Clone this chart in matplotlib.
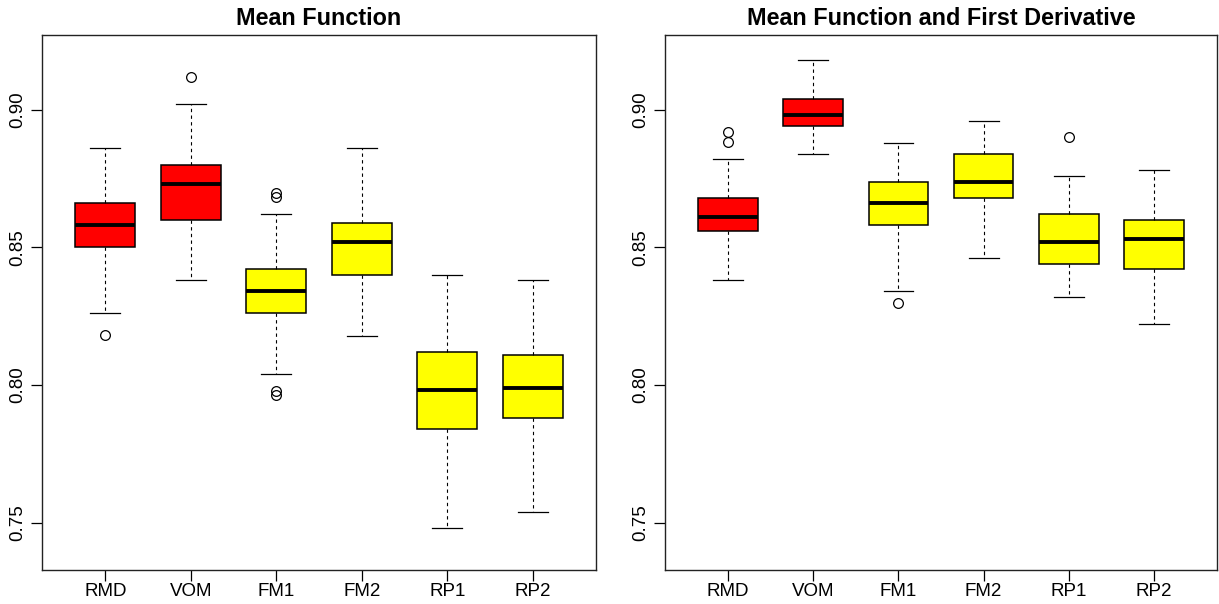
import matplotlib.pyplot as plt

plt.rcParams['font.family'] = ['Liberation Sans', 'DejaVu Sans']

methods = ['RMD', 'VOM', 'FM1', 'FM2', 'RP1', 'RP2']
box_colors = ['red', 'red', 'yellow', 'yellow', 'yellow', 'yellow']

# Left panel: Mean Function
mf_whislo = [0.8261, 0.8380, 0.8041, 0.8180, 0.7481, 0.7540]
mf_q1     = [0.8500, 0.8600, 0.8261, 0.8399, 0.7840, 0.7881]
mf_med    = [0.8581, 0.8731, 0.8340, 0.8520, 0.7981, 0.7991]
mf_q3     = [0.8661, 0.8801, 0.8421, 0.8590, 0.8121, 0.8110]
mf_whishi = [0.8861, 0.9021, 0.8620, 0.8861, 0.8399, 0.8380]
mf_fliers = [[0.8181], [0.9120], [0.8699, 0.8683, 0.7979, 0.7964], [], [], []]

# Right panel: Mean Function and First Derivative
md_whislo = [0.8380, 0.8840, 0.8341, 0.8461, 0.8320, 0.8221]
md_q1     = [0.8560, 0.8941, 0.8580, 0.8680, 0.8440, 0.8421]
md_med    = [0.8610, 0.8981, 0.8661, 0.8739, 0.8520, 0.8530]
md_q3     = [0.8680, 0.9040, 0.8739, 0.8840, 0.8620, 0.8600]
md_whishi = [0.8821, 0.9181, 0.8881, 0.8961, 0.8761, 0.8781]
md_fliers = [[0.8919, 0.8883], [], [0.8300], [], [0.8901], []]

yticks = [0.75, 0.80, 0.85, 0.90]


def make_stats(whislo, q1, med, q3, whishi, fliers):
    stats = []
    for i in range(len(methods)):
        stats.append(dict(label=methods[i], whislo=whislo[i], q1=q1[i], med=med[i],
                          q3=q3[i], whishi=whishi[i], fliers=fliers[i]))
    return stats


def draw_panel(ax, stats, title):
    bp = ax.bxp(stats, positions=range(1, 7), widths=0.7, capwidths=0.35,
                patch_artist=True, showfliers=True,
                boxprops=dict(edgecolor='black', linewidth=1.1),
                medianprops=dict(color='black', linewidth=2.8, solid_capstyle='butt'),
                whiskerprops=dict(color='black', linewidth=0.8, linestyle=(0, (3, 3))),
                capprops=dict(color='black', linewidth=0.9),
                flierprops=dict(marker='o', markerfacecolor='none', markeredgecolor='black',
                                markersize=7, markeredgewidth=0.9, linestyle='none'))
    for patch, c in zip(bp['boxes'], box_colors):
        patch.set_facecolor(c)
    ax.set_xlim(0.26, 6.74)
    ax.set_ylim(0.7328, 0.9272)
    ax.set_xticks(range(1, 7))
    ax.set_xticklabels(methods)
    ax.set_yticks(yticks)
    ax.set_yticklabels(['%.2f' % v for v in yticks], rotation=90, va='center')
    ax.tick_params(axis='both', length=8, width=0.9, labelsize=13.5)
    ax.tick_params(axis='x', pad=1.5)
    ax.tick_params(axis='y', pad=3)
    for s in ax.spines.values():
        s.set_linewidth(1.0)
        s.set_color('#222222')
    ax.set_title(title, fontsize=16.8, fontweight='bold', pad=7)


fig = plt.figure(figsize=(12.19, 6.04), dpi=100)
ax1 = fig.add_axes([42 / 1219, 34 / 604, 554 / 1219, 535 / 604])
ax2 = fig.add_axes([665 / 1219, 34 / 604, 552 / 1219, 535 / 604])

draw_panel(ax1, make_stats(mf_whislo, mf_q1, mf_med, mf_q3, mf_whishi, mf_fliers),
           'Mean Function')
draw_panel(ax2, make_stats(md_whislo, md_q1, md_med, md_q3, md_whishi, md_fliers),
           'Mean Function and First Derivative')

fig.savefig('out.png', dpi=100)
